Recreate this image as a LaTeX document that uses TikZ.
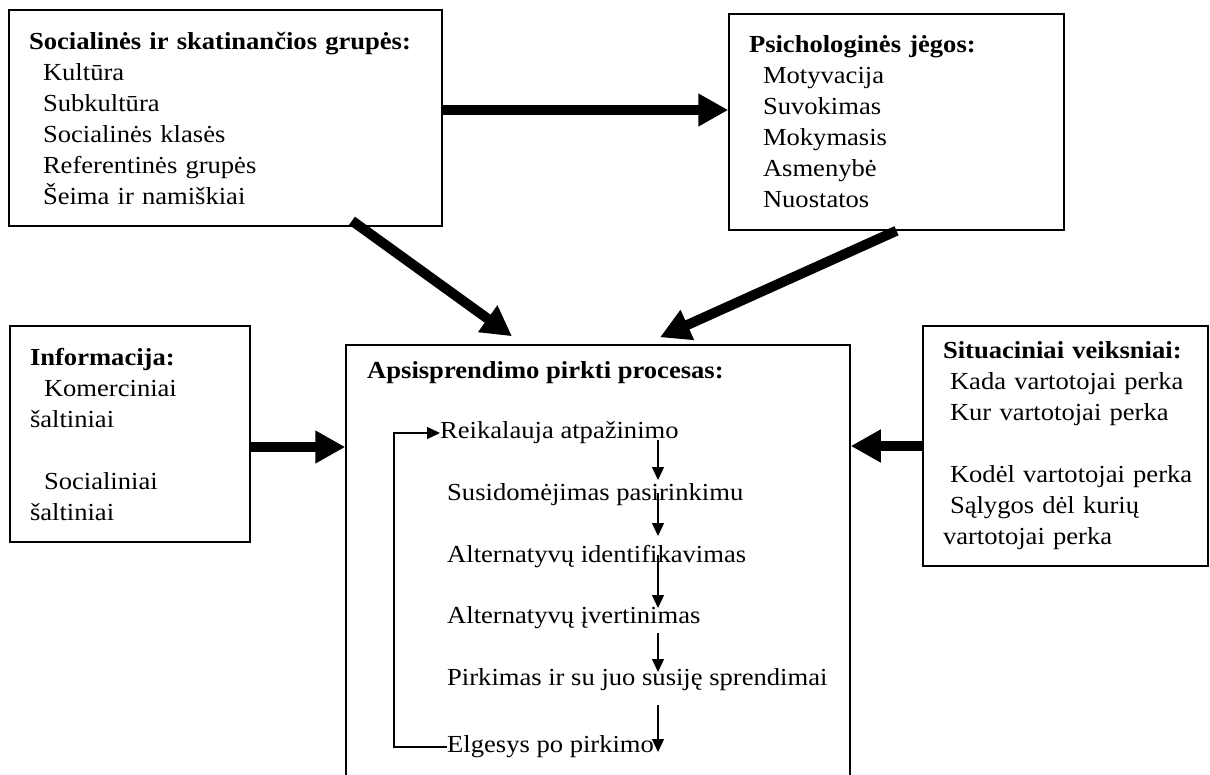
\documentclass[tikz,border=0pt]{standalone}
\usepackage{fontspec}
\setmainfont{Liberation Serif}[FakeStretch=1.085]
\usepackage{tikz}
\usetikzlibrary{positioning}
\usetikzlibrary{arrows.meta}
\newcommand{\ind}[1][14pt]{\hspace*{#1}}

\begin{document}
\begin{tikzpicture}[x=1pt,y=-1pt,
  box/.style={rectangle,draw,line width=1.5pt,align=left,inner xsep=20pt,inner ysep=0pt,font=\fontsize{24.5}{31}\selectfont},
  stage/.style={anchor=west,inner sep=0pt,font=\fontsize{24.5}{31}\selectfont},
  bigarrow/.style={-{Triangle[length=30pt,width=31pt]},line width=10pt},
  flow/.style={-{Triangle[length=13pt,width=12pt]},line width=1.3pt}]

		  \useasboundingbox (0,0) rectangle (1210,774);

		  % Veiksniai
		  \node[box,text width=393pt,minimum height=216pt] (soc) at (225.5,118)
		   {\textbf{Socialinės ir skatinančios grupės:}\\
			\ind Kultūra\\
			\ind Subkultūra\\
			\ind Socialinės klasės\\
			\ind Referentinės grupės\\
			\ind Šeima ir namiškiai};
		  \node[box,text width=295pt,minimum height=216pt] (psy) at (896.5,122)
		   {\textbf{Psichologinės jėgos:}\\
			\ind Motyvacija\\
			\ind Suvokimas\\
			\ind Mokymasis\\
			\ind Asmenybė\\
			\ind Nuostatos};
		  \node[box,text width=200pt,minimum height=216pt] (info) at (130,434)
		   {\textbf{Informacija:}\\
			\ind Komerciniai\\
			šaltiniai\\[31pt]
			\ind Socialiniai\\
			šaltiniai};
		  \node[box,text width=245pt,minimum height=240pt] (sit) at (1065.5,446)
		   {\mbox{\textbf{Situaciniai veiksniai:}}\\
			\mbox{\ind[7pt]Kada vartotojai perka}\\
			\mbox{\ind[7pt]Kur vartotojai perka}\\[31pt]
			\mbox{\ind[7pt]Kodėl vartotojai perka}\\
			\mbox{\ind[7pt]Sąlygos dėl kurių}\\
			\mbox{vartotojai perka}};

		  % Procesas
		  \node[box,minimum width=504pt,minimum height=432pt] (proc) at (598,561) {};
		  \node[stage,font=\fontsize{24.5}{31}\selectfont\bfseries] (procT) at (367,373) {Apsisprendimo pirkti procesas:};
		  \node[stage] (r1) at (440,433) {Reikalauja atpažinimo};
		  \node[stage] (r2) [below right=62pt and 7pt of r1.west,anchor=west] {Susidomėjimas pasirinkimu};
		  \node[stage] (r3) [below=62pt of r2.west,anchor=west] {Alternatyvų identifikavimas};
		  \node[stage] (r4) [below=61pt of r3.west,anchor=west] {Alternatyvų įvertinimas};
		  \node[stage] (r5) [below=62pt of r4.west,anchor=west] {Pirkimas ir su juo susiję sprendimai};
		  \node[stage] (r6) [below=67pt of r5.west,anchor=west] {Elgesys po pirkimo};

		  \foreach \ya/\yb [count=\i] in {440/480,493/536,555/608,633/672,705/752}{
			\coordinate (s\i) at (658,\ya);
			\coordinate (e\i) at (658,\yb);
			\draw[flow] (s\i) -- (e\i);
		  }
		  \draw[flow] (r6.west) -| ([xshift=-46pt]r1.west) -- (r1.west);

		  % Rodyklės
		  \draw[bigarrow] ([yshift=8pt]soc.east) -- ([yshift=8pt]soc.east -| psy.west);
		  \draw[bigarrow] ([xshift=126.5pt,yshift=6pt]soc.south) -- ([xshift=-86pt,yshift=8pt]proc.north);
		  \draw[bigarrow] (psy.south) -- ([xshift=62pt,yshift=7pt]proc.north);
		  \draw[bigarrow] ([yshift=-13pt]info.east) -- ([yshift=-13pt]info.east -| proc.west);
		  \draw[bigarrow] (sit.west) -- (sit.west -| proc.east);

\end{tikzpicture}
\end{document}
